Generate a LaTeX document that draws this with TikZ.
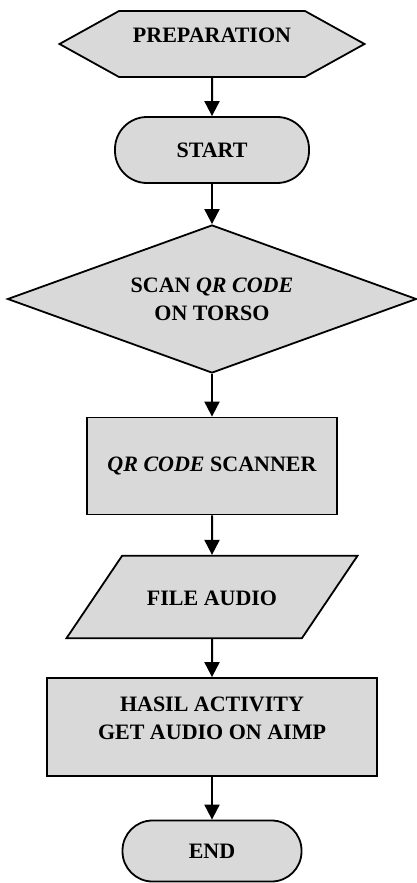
\documentclass[tikz,border=0pt]{standalone}
\usepackage{fontspec}
\setmainfont{Liberation Serif}
\usetikzlibrary{shapes.geometric,shapes.symbols,arrows.meta}
\definecolor{boxgray}{RGB}{217,217,217}
\begin{document}
\begin{tikzpicture}[x=0.5pt, y=-0.5pt,
    every node/.style={font=\fontsize{11}{14}\selectfont\bfseries, align=center},
    shapebox/.style={draw, line width=0.9pt, fill=boxgray, inner sep=2pt},
    prepbox/.style={shapebox, signal, signal to=east and west, signal pointer angle=58,
        minimum width=152.5pt, minimum height=33pt},
    termbox/.style={shapebox, rectangle, rounded corners=16pt},
    decbox/.style={shapebox, diamond, aspect=2.76, minimum width=204.5pt, minimum height=74pt},
    procbox/.style={shapebox, rectangle},
    iobox/.style={shapebox, trapezium, trapezium left angle=56, trapezium right angle=124,
        trapezium stretches body, text height=8pt, text depth=0pt, inner ysep=16.6pt,
        minimum width=145.5pt},
    flowarrow/.style={line width=1pt, -{Triangle[width=7.5pt,length=7.5pt]}}]
  \useasboundingbox (0,0) rectangle (417,883);

  % Flow steps
  \node (prep) [prepbox, text depth=9pt] at (212,44) {PREPARATION};
  \node (start) [termbox, minimum width=97pt, minimum height=33pt] at (212,150) {START};
  \node (scan) [decbox] at (212,299) {SCAN \textit{QR CODE}\\ON TORSO};
  \node (qrscan) [procbox, minimum width=125pt, minimum height=48.5pt] at (212,466) {\textit{QR CODE} SCANNER};
  \node (audio) [iobox] at (212,597) {FILE AUDIO};
  \node (hasil) [procbox, text depth=9pt, minimum width=165pt, minimum height=49pt] at (212,727) {HASIL ACTIVITY\\GET AUDIO ON AIMP};
  \node (finish) [termbox, rounded corners=15pt, minimum width=89.5pt, minimum height=30.5pt] at (212,851) {END};

  % Connections
  \foreach \a/\b in {prep/start, start/scan, scan/qrscan, qrscan/audio, audio/hasil, hasil/finish} {
      \draw[flowarrow] (\a) -- (\b);
    }
\end{tikzpicture}
\end{document}
